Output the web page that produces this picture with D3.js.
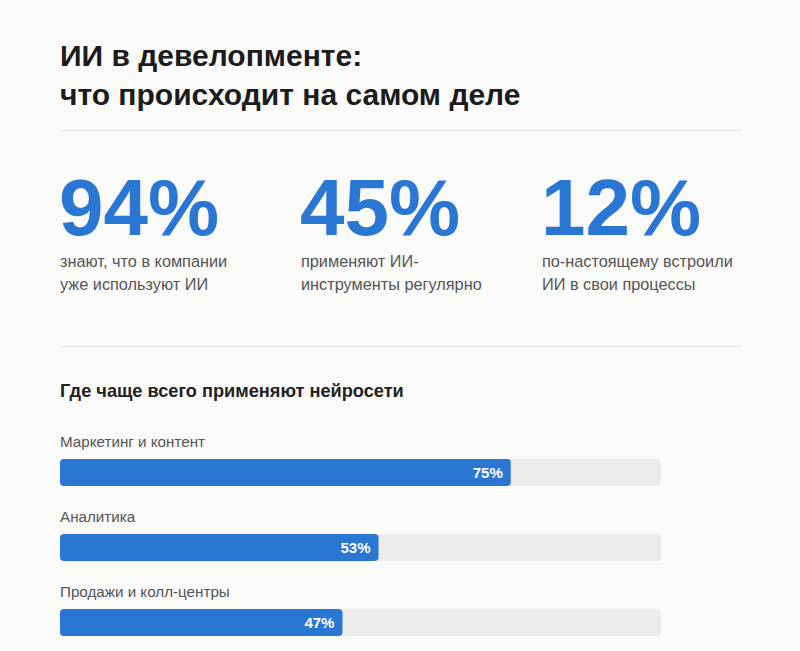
<!DOCTYPE html>
<html>
<head>
<meta charset="utf-8">
<script src="https://cdn.jsdelivr.net/npm/d3@7"></script>
<style>
  html, body { margin: 0; padding: 0; background: #fafaf9; }
  svg { display: block; font-family: "Liberation Sans", Arial, sans-serif; }
</style>
</head>
<body>
<div id="chart-wrapper"></div>
<script>
// data
var title_lines = ['ИИ в девелопменте:', 'что происходит на самом деле'];
var stat_values = [94, 45, 12];
var stat_captions = [
    ['знают, что в компании', 'уже используют ИИ'],
    ['применяют ИИ-', 'инструменты регулярно'],
    ['по-настоящему встроили', 'ИИ в свои процессы']
];
var section_title = 'Где чаще всего применяют нейросети';
var categories = ['Маркетинг и контент', 'Аналитика', 'Продажи и колл-центры'];
var shares = [75, 53, 47];

var total_width = 800;
var total_height = 651;
var margin = {left: 60, right: 59};
var content_width = total_width - margin.left - margin.right;
var blue = '#2a76d3';

var svg = d3.select('#chart-wrapper').append('svg')
    .attr('width', total_width)
    .attr('height', total_height);

// title
svg.append('g')
    .selectAll('text')
    .data(title_lines)
    .enter()
  .append('text')
    .attr('x', margin.left)
    .attr('y', function(d, i) { return 66 + i * 39; })
    .attr('font-size', 30)
    .attr('font-weight', 'bold')
    .attr('fill', '#1c1c1c')
    .text(function(d) { return d; });

// dividers
svg.selectAll('line.divider')
    .data([130, 346])
    .enter()
  .append('line')
    .attr('class', 'divider')
    .attr('x1', margin.left)
    .attr('x2', margin.left + content_width)
    .attr('y1', function(d) { return d + 0.5; })
    .attr('y2', function(d) { return d + 0.5; })
    .attr('stroke', '#e2e2e0')
    .attr('stroke-width', 1);

// big numbers
var scale_cols = d3.scaleBand()
    .domain(d3.range(stat_values.length))
    .range([margin.left, margin.left + 723]);

var stats = svg.selectAll('g.stat')
    .data(stat_values)
    .enter()
  .append('g')
    .attr('class', 'stat')
    .attr('transform', function(d, i) {
        return 'translate(' + scale_cols(i) + ',0)';
    });

stats.append('text')
    .attr('x', -1)
    .attr('y', 235)
    .attr('font-size', 80)
    .attr('font-weight', 'bold')
    .attr('fill', blue)
    .text(function(d) { return d + '%'; });

stats.each(function(d, i) {
    d3.select(this).selectAll('text.caption')
        .data(stat_captions[i])
        .enter()
      .append('text')
        .attr('class', 'caption')
        .attr('y', function(c, j) { return 267 + j * 23; })
        .attr('font-size', 16.3)
        .attr('fill', '#555')
        .text(function(c) { return c; });
});

// bar section
svg.append('text')
    .attr('x', margin.left)
    .attr('y', 397)
    .attr('font-size', 18.2)
    .attr('font-weight', 'bold')
    .attr('fill', '#222')
    .text(section_title);

var track_width = 601;
var scale_x = d3.scaleLinear()
    .domain([0, 100])
    .range([0, track_width]);

var row_height = 75;
var bar_height = 27;
var scale_y = d3.scaleBand()
    .domain(categories)
    .range([423, 423 + row_height * categories.length]);

var rows = svg.selectAll('g.bar')
    .data(categories)
    .enter()
  .append('g')
    .attr('class', 'bar')
    .attr('transform', function(d) {
        return 'translate(' + margin.left + ',' + scale_y(d) + ')';
    });

rows.append('text')
    .attr('y', 24)
    .attr('font-size', 15.2)
    .attr('fill', '#555')
    .text(function(d) { return d; });

rows.append('rect')
    .attr('y', 36)
    .attr('width', scale_x(100))
    .attr('height', bar_height)
    .attr('rx', 4)
    .attr('fill', '#ebebe9');

rows.append('rect')
    .attr('y', 36)
    .attr('width', function(d, i) { return scale_x(shares[i]); })
    .attr('height', bar_height)
    .attr('rx', 4)
    .attr('fill', blue);

rows.append('text')
    .attr('x', function(d, i) { return scale_x(shares[i]) - 8; })
    .attr('y', 36 + bar_height / 2 + 5)
    .attr('text-anchor', 'end')
    .attr('font-size', 15)
    .attr('font-weight', 'bold')
    .attr('fill', '#fff')
    .text(function(d, i) { return shares[i] + '%'; });
</script>
</body>
</html>
